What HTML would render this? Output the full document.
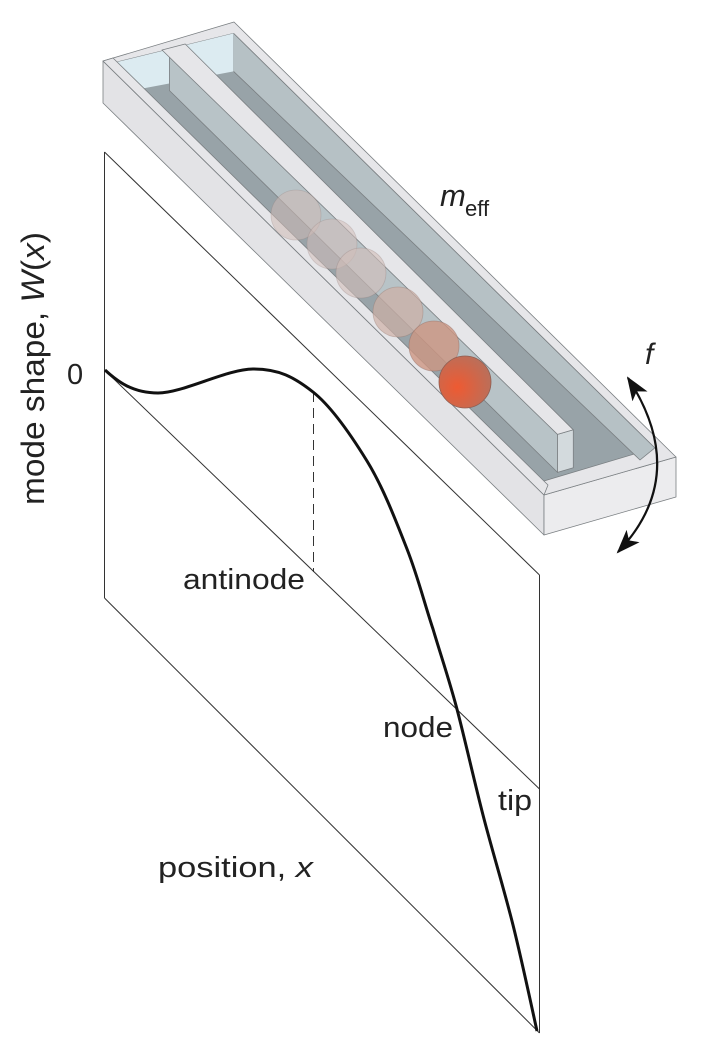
<!DOCTYPE html>
<html><head><meta charset="utf-8"><style>
html,body{margin:0;padding:0;background:#fff;}
svg{display:block;}
text{font-family:"Liberation Sans",sans-serif;fill:#222;}
</style></head><body>
<svg width="710" height="1062" viewBox="0 0 710 1062" xmlns="http://www.w3.org/2000/svg">
<defs>
<radialGradient id="rg" cx="0.35" cy="0.6" r="0.7">
<stop offset="0" stop-color="#ee5a32"/><stop offset="1" stop-color="#b8705c"/>
</radialGradient>
<marker id="ah" markerWidth="24" markerHeight="18" refX="22" refY="9" orient="auto-start-reverse" markerUnits="userSpaceOnUse" viewBox="0 0 24 18">
<path d="M0,0 L24,9 L0,18 L6,9 Z" fill="#111"/>
</marker>
</defs>

<!-- plot frame -->
<g stroke="#333" stroke-width="1" fill="none">
<line x1="104.5" y1="152" x2="104.5" y2="598"/>
<line x1="104.5" y1="152" x2="539.5" y2="575"/>
<line x1="539.5" y1="575" x2="539.5" y2="1033"/>
<line x1="104.5" y1="370" x2="539.5" y2="789"/>
<line x1="104.5" y1="598" x2="539.5" y2="1033"/>
<line x1="313.5" y1="392" x2="313.5" y2="572" stroke-dasharray="10,6"/>
</g>

<!-- channel -->
<g stroke="#7a7f82" stroke-width="0.8" stroke-linejoin="round">
<polygon points="103,61 544,495 544,535 103,103" fill="#e3e3e6"/>
<polygon points="544,495 676,457 676,497 544,535" fill="#ececee"/>
<polygon points="103,61 234,22 676,457 544,495" fill="#e6e6e9"/>
<polygon points="113,63 233.6,33.4 654.8,447.9 543.5,481.1" fill="#98a3a8"/>
<polygon points="233.6,33.4 654.8,447.9 640,460 233.6,71.4" fill="#b6c1c5"/>
<polygon points="113,63 233.6,33.4 233.6,71.4 140,89" fill="#dcebf1" stroke="none"/>
<polygon points="169.4,52.5 557.5,434.4 557.5,472.4 169.4,90.5" fill="#b8c3c7"/>
<polygon points="557.5,434.4 573.3,429.8 573.3,467.8 557.5,472.4" fill="#d3dadd"/>
<polygon points="162,50 185.2,44 573.3,429.8 557.5,434.4" fill="#e6e6e9"/>
<polygon points="103,61 113,58 548,485 544,495" fill="#e6e6e9"/>
</g>

<!-- balls -->
<g stroke-width="0.8">
<circle cx="296" cy="215" r="25" fill="rgba(205,185,180,0.55)" stroke="rgba(150,130,125,0.3)"/>
<circle cx="332" cy="244" r="25" fill="rgba(210,190,185,0.55)" stroke="rgba(150,130,125,0.3)"/>
<circle cx="361" cy="273" r="25" fill="rgba(210,190,185,0.6)" stroke="rgba(150,130,125,0.35)"/>
<circle cx="398" cy="312" r="25" fill="rgba(205,175,165,0.7)" stroke="rgba(150,120,110,0.4)"/>
<circle cx="434" cy="346" r="25" fill="rgba(205,150,130,0.8)" stroke="rgba(150,110,100,0.5)"/>
<circle cx="465" cy="382" r="26" fill="url(#rg)" stroke="#8e5e52"/>
</g>

<!-- mode curve -->
<path d="M105,370 C118,382 133,393 158,393 C183,393 227,369 253,369 C279,369 294,377 313,392 C332,407 351,435 367,461 C383,487 396,521 407,549 C418,577 424,602 433,629 C441,656 450,682 458,713 C466,744 474,780 483,815 C492,850 504,889 513,925 C522,961 533,1013 537,1031" fill="none" stroke="#111" stroke-width="3"/>

<!-- f arrow -->
<path d="M628,378 Q691,475 618,552" fill="none" stroke="#111" stroke-width="2.2" marker-start="url(#ah)" marker-end="url(#ah)"/>

<!-- labels -->
<text x="440" y="206" font-size="31" font-style="italic">m</text>
<text x="465" y="216" font-size="22">eff</text>
<text x="645" y="364" font-size="30" font-style="italic">f</text>
<text x="67" y="384" font-size="29" fill="#444">0</text>
<text transform="translate(44,505) rotate(-90)" font-size="32" textLength="273" lengthAdjust="spacingAndGlyphs">mode shape, <tspan font-style="italic">W</tspan>(<tspan font-style="italic">x</tspan>)</text>
<text x="183" y="589" font-size="29" textLength="122" lengthAdjust="spacingAndGlyphs">antinode</text>
<text x="383" y="737" font-size="29" textLength="70" lengthAdjust="spacingAndGlyphs">node</text>
<text x="498" y="810" font-size="29" textLength="34" lengthAdjust="spacingAndGlyphs">tip</text>
<text x="158" y="877" font-size="29" textLength="155" lengthAdjust="spacingAndGlyphs">position, <tspan font-style="italic">x</tspan></text>
</svg>
</body></html>
